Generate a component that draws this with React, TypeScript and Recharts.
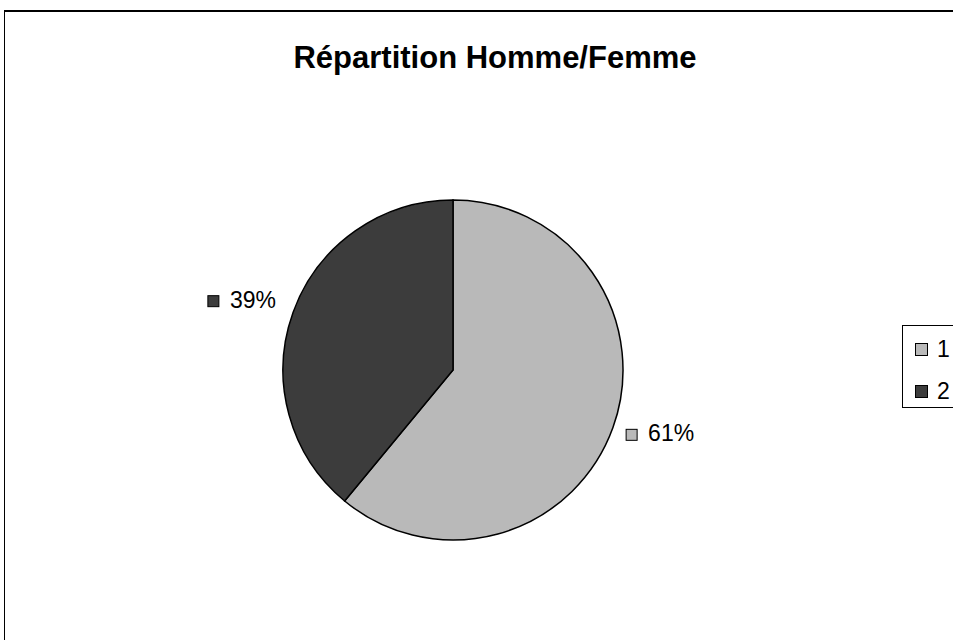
import { PieChart, Pie, Cell, Legend } from 'recharts'

const categories = ['1', '2']
const values = [61, 39]
const COLORS = ['#b9b9b9', '#3c3c3c']

const data = categories.map((name, i) => ({ name, value: values[i] }))

const RADIAN = Math.PI / 180

interface LabelProps {
  cx?: number
  cy?: number
  midAngle?: number
  outerRadius?: number
  percent?: number
  index?: number
}

function PctLabel({ cx = 0, cy = 0, midAngle = 0, outerRadius = 0, percent = 0, index = 0 }: LabelProps) {
  const r = outerRadius + 14
  const px = cx + r * Math.cos(-midAngle * RADIAN)
  const py = cy + r * Math.sin(-midAngle * RADIAN)
  const right = px > cx
  // square + gap + text, placed outside the slice
  const x0 = right ? px : px - 72
  const base = right ? py + 9 : py
  return (
    <g>
      <rect x={x0} y={base - 12} width={11} height={11} fill={COLORS[index % COLORS.length]} stroke="#000" strokeWidth={1} />
      <text x={x0 + 22} y={base} fill="#000" fontSize={23} fontFamily="'Liberation Sans', Arial, sans-serif">
        {Math.round(percent * 100)}%
      </text>
    </g>
  )
}

function LegendBox() {
  return (
    <div style={{ width: 80, height: 83, border: '1px solid #000', boxSizing: 'border-box', position: 'relative', background: '#fff' }}>
      {categories.map((c, i) => (
        <div key={c} style={{ position: 'absolute', left: 12, top: i === 0 ? 12 : 54, display: 'flex', alignItems: 'center', height: 22 }}>
          <span style={{ display: 'inline-block', width: 11, height: 11, border: '1px solid #000', background: COLORS[i], marginRight: 9 }} />
          <span style={{ fontSize: 23, fontFamily: "'Liberation Sans', Arial, sans-serif", color: '#000', lineHeight: '22px' }}>{c}</span>
        </div>
      ))}
    </div>
  )
}

export default function App() {
  return (
    <div style={{ position: 'fixed', left: 0, top: 0, width: 953, height: 640, overflow: 'hidden', background: '#fff' }}>
      <div style={{ position: 'absolute', left: 4, top: 10, width: 980, height: 700, border: '1px solid #000', borderTopWidth: 2, background: '#fff' }}>
        <div
          style={{
            position: 'absolute',
            left: 0,
            top: 30,
            width: 980,
            textAlign: 'center',
            fontFamily: "'Liberation Sans', Arial, sans-serif",
            fontWeight: 700,
            fontSize: 31,
            lineHeight: '31px',
            color: '#000',
            zIndex: 2,
          }}
        >
          Répartition Homme/Femme
        </div>
        <PieChart width={980} height={700}>
          <Pie
            data={data}
            dataKey="value"
            nameKey="name"
            cx={443}
            cy={353}
            outerRadius={170}
            startAngle={90}
            endAngle={-270}
            stroke="#000"
            strokeWidth={1.5}
            label={<PctLabel />}
            labelLine={false}
            isAnimationActive={false}
          >
            {data.map((d, i) => (
              <Cell key={d.name} fill={COLORS[i % COLORS.length]} />
            ))}
          </Pie>
          <Legend content={<LegendBox />} wrapperStyle={{ position: 'absolute', left: 897, top: 313, width: 80 }} />
        </PieChart>
      </div>
    </div>
  )
}
